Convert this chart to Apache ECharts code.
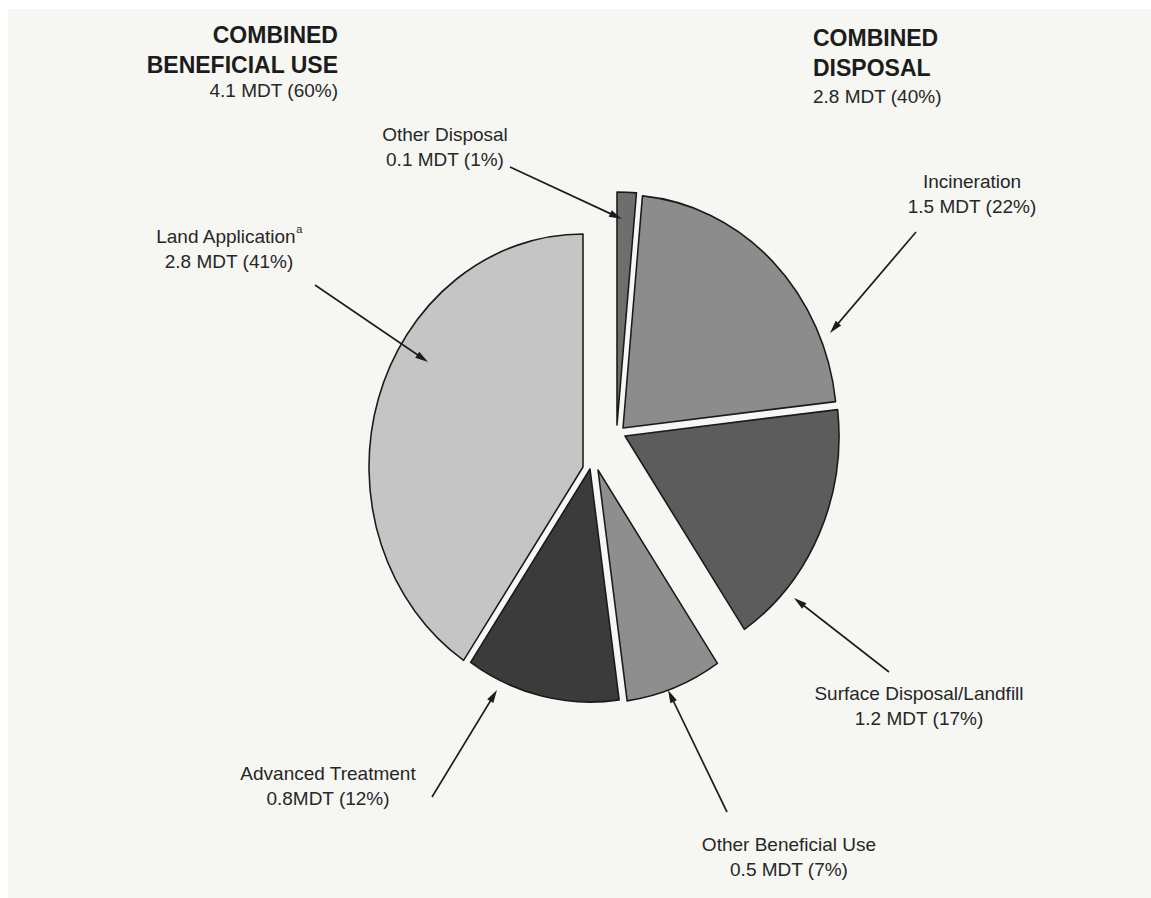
<!DOCTYPE html>
<html><head><meta charset="utf-8">
<script src="https://cdn.jsdelivr.net/npm/echarts@6/dist/echarts.min.js"></script>
<style>
html,body{margin:0;padding:0;background:#fff;overflow:hidden;width:1151px;height:898px}
#c{height:898px;transform-origin:0 0}
</style>
</head><body><div id="c"></div>
<script>
// ---------- data ----------
const categories = ['Other Disposal', 'Incineration', 'Surface Disposal/Landfill', 'Other Beneficial Use', 'Advanced Treatment', 'Land Application'];
const valuesMDT = [0.1, 1.5, 1.2, 0.5, 0.8, 2.8];
const percents = [1, 22, 17, 7, 12, 41];
const groupOf = ['disposal', 'disposal', 'disposal', 'beneficial', 'beneficial', 'beneficial'];
const groupTitles = { beneficial: ['COMBINED', 'BENEFICIAL USE'], disposal: ['COMBINED', 'DISPOSAL'] };
const footnotes = ['', '', '', '', '', 'a'];
const unitSeparators = [' ', ' ', ' ', ' ', '', ' '];   // as printed: "0.8MDT"

// ---------- styling / layout (screen pixels) ----------
const colors = ['#6e6e6e', '#8c8c8c', '#5c5c5c', '#8e8e8e', '#3b3b3b', '#c5c5c5'];
const SX = 0.9185;              // the scanned pie is slightly narrower than tall
const pieRadius = 233;          // vertical radius in px
const sliceCenters = [[617, 425], [623, 428], [625, 436], [598, 470], [590, 469], [583, 467]];
const labelPos = [[445, 147], [972, 194], [919, 706], [789, 857], [328, 786], [229, 249]];
const titlePos = { beneficial: { x: 338, ys: [35, 65, 91], align: 'right' }, disposal: { x: 813, ys: [38, 68, 97], align: 'left' } };
const arrowLines = [
  [[510, 167], [622, 219]],
  [[916, 232], [830, 333]],
  [[889, 672], [794, 598]],
  [[727, 812], [668, 690]],
  [[432, 797], [497, 690]],
  [[315, 285], [428, 362]]
];
const FONT = '"Liberation Sans", Arial, Helvetica, sans-serif';
const TEXT = '#272727';

const W = 1151 / SX;
const el = document.getElementById('c');
el.style.width = W + 'px';
el.style.transform = 'scaleX(' + SX + ')';
const cx = x => x / SX;   // screen x -> chart x

const chart = echarts.init(el, null, { renderer: 'svg', width: W, height: 898 });

const series = categories.map((_, k) => ({
  type: 'pie',
  center: [cx(sliceCenters[k][0]), sliceCenters[k][1]],
  radius: pieRadius,
  startAngle: 90,
  clockwise: true,
  silent: true,
  animation: false,
  label: { show: false },
  labelLine: { show: false },
  data: categories.map((name, i) => ({
    name: name,
    value: valuesMDT[i],
    itemStyle: i === k
      ? { color: colors[i], borderColor: '#1a1a1a', borderWidth: 1.7 }
      : { color: 'rgba(0,0,0,0)', borderWidth: 0 }
  }))
}));

function groupSum(g, arr) {
  let s = 0;
  arr.forEach((v, i) => { if (groupOf[i] === g) s += v; });
  return s;
}
const graphics = [
  { type: 'rect', z: -10, shape: { x: 0, y: 0, width: cx(8), height: 898 }, style: { fill: '#ffffff' } },
  { type: 'rect', z: -10, shape: { x: 0, y: 0, width: W, height: 9 }, style: { fill: '#ffffff' } }
];
function text(x, y, str, font, align, fill) {
  return { type: 'text', z: 100, x: cx(x), y: y, scaleX: 1 / SX,
    style: { text: str, font: font, fill: fill || TEXT, align: align, verticalAlign: 'middle' } };
}
// group headers computed from data
Object.keys(titlePos).forEach(g => {
  const p = titlePos[g], t = groupTitles[g];
  graphics.push(text(p.x, p.ys[0], t[0], 'bold 23px ' + FONT, p.align, '#1c1c1c'));
  graphics.push(text(p.x, p.ys[1], t[1], 'bold 23px ' + FONT, p.align, '#1c1c1c'));
  graphics.push(text(p.x, p.ys[2], groupSum(g, valuesMDT).toFixed(1) + ' MDT (' + Math.round(groupSum(g, percents)) + '%)', '19px ' + FONT, p.align));
});
// slice labels
categories.forEach((name, i) => {
  const foot = footnotes[i] ? '{s|' + footnotes[i] + '}' : '';
  graphics.push({
    type: 'text', z: 100, x: cx(labelPos[i][0]), y: labelPos[i][1], scaleX: 1 / SX,
    style: {
      text: '{n|' + name + '}' + foot + '\n{v|' + valuesMDT[i].toFixed(1) + unitSeparators[i] + 'MDT (' + percents[i] + '%)}',
      align: 'center', verticalAlign: 'middle',
      rich: {
        n: { font: '19px ' + FONT, fill: TEXT, lineHeight: 26 },
        s: { font: '11px ' + FONT, fill: TEXT, lineHeight: 26, verticalAlign: 'top' },
        v: { font: '19px ' + FONT, fill: TEXT, lineHeight: 26 }
      }
    }
  });
});
// arrows
arrowLines.forEach(([a, b]) => {
  const dx = b[0] - a[0], dy = b[1] - a[1];
  const L = Math.hypot(dx, dy), ux = dx / L, uy = dy / L;
  const hl = 13, hw = 3.6;
  const bx = b[0] - ux * hl, by = b[1] - uy * hl;
  graphics.push({ type: 'line', z: 100, shape: { x1: cx(a[0]), y1: a[1], x2: cx(bx + ux * 2), y2: by + uy * 2 }, style: { stroke: '#1c1c1c', lineWidth: 1.8 } });
  graphics.push({ type: 'polygon', z: 100, shape: { points: [[cx(b[0]), b[1]], [cx(bx - uy * hw), by + ux * hw], [cx(bx + uy * hw), by - ux * hw]] }, style: { fill: '#1c1c1c' } });
});

chart.setOption({
  backgroundColor: '#f6f6f3',
  animation: false,
  series: series,
  graphic: { elements: graphics }
});
</script>
</body></html>
